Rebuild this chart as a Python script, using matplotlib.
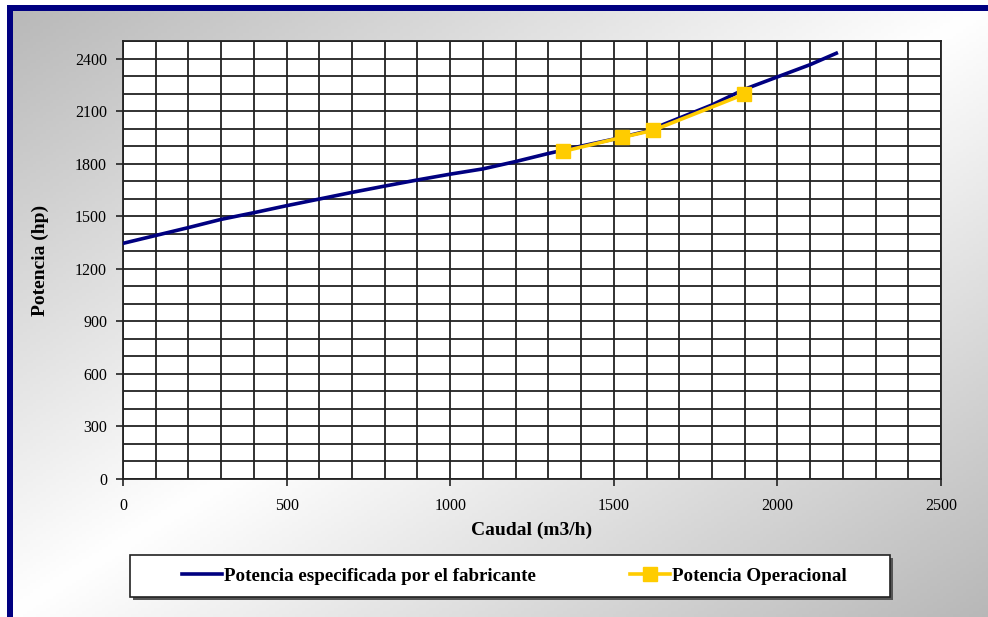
import numpy as np
import matplotlib.pyplot as plt
from matplotlib.lines import Line2D
from matplotlib.patches import Rectangle

# curva del fabricante (caudal m3/h, potencia hp)
caudal_fab = [0, 100, 200, 300, 400, 500, 600, 700, 800, 900, 1000, 1100,
              1200, 1300, 1400, 1500, 1600, 1700, 1800, 1900, 2000, 2100, 2180]
potencia_fab = [1345, 1390, 1435, 1482, 1520, 1560, 1598, 1636, 1672, 1707,
                1740, 1770, 1812, 1858, 1900, 1940, 1985, 2060, 2135, 2225,
                2295, 2365, 2430]

# puntos de operacion
caudal_op = [1345, 1525, 1620, 1897]
potencia_op = [1870, 1950, 1990, 2195]

x_ticks = [0, 500, 1000, 1500, 2000, 2500]
y_ticks = [0, 300, 600, 900, 1200, 1500, 1800, 2100, 2400]

serif = ['Liberation Serif', 'DejaVu Serif']

W, H = 988, 617
fig = plt.figure(figsize=(W / 100, H / 100), dpi=100)
fig.patch.set_facecolor('white')

# fondo degradado gris-blanco-gris en diagonal
bg = fig.add_axes([7 / W, 0, 1 - 7 / W, 1 - 5 / H], zorder=-10)
gx, gy = np.meshgrid(np.linspace(0, 1, 300), np.linspace(0, 1, 200))
t = np.abs((gx + gy) - 1.0)
val = 1.0 - 0.28 * t
bg.imshow(np.dstack([val, val, val]), aspect='auto', extent=[0, 1, 1, 0])
bg.set_axis_off()

# marco azul superior e izquierdo
navy = '#000080'
fig.patches.append(Rectangle((7 / W, 0), 6 / W, 1 - 5 / H, transform=fig.transFigure,
                             facecolor=navy, edgecolor='none', zorder=5))
fig.patches.append(Rectangle((7 / W, 1 - 11 / H), 1 - 7 / W, 6 / H, transform=fig.transFigure,
                             facecolor=navy, edgecolor='none', zorder=5))

ax = fig.add_axes([123 / W, 1 - 479 / H, (941 - 123) / W, (479 - 41) / H])
ax.set_facecolor('white')
ax.set_xlim(0, 2500)
ax.set_ylim(0, 2500)
ax.set_xticks(x_ticks)
ax.set_yticks(y_ticks)
ax.set_xticks(np.arange(0, 2501, 100), minor=True)
ax.set_yticks(np.arange(0, 2501, 100), minor=True)
ax.grid(True, which='both', color='#222222', linewidth=1.3)
ax.tick_params(which='minor', length=0)
ax.tick_params(which='major', direction='out', length=5, width=1.2, color='#222222',
               labelsize=11.5)
ax.tick_params(axis='y', pad=6.5)
ax.tick_params(axis='x', pad=9)
for lbl in ax.get_xticklabels() + ax.get_yticklabels():
    lbl.set_family(serif)
for sp in ax.spines.values():
    sp.set_color('#222222')
    sp.set_linewidth(1.3)
ax.set_axisbelow(True)

ax.plot(caudal_fab, potencia_fab, color=navy, linewidth=2.6, zorder=3)
ax.plot(caudal_op, potencia_op, color='#FFCC00', linewidth=2.6, marker='s',
        markersize=10, markeredgecolor='#FFCC00', zorder=4)

ax.set_xlabel('Caudal (m3/h)', family=serif, fontweight='bold',
              fontsize=14, labelpad=5)
ax.set_ylabel('Potencia (hp)', family=serif, fontweight='bold',
              fontsize=14, labelpad=19)

# caja de leyenda con sombra
lx0, lx1, ly0, ly1 = 130, 890, 555, 597
fig.patches.append(Rectangle(((lx0 + 3) / W, 1 - (ly1 + 3) / H), (lx1 - lx0) / W, (ly1 - ly0) / H,
                             transform=fig.transFigure, facecolor='#555555',
                             edgecolor='none', zorder=6))
fig.patches.append(Rectangle((lx0 / W, 1 - ly1 / H), (lx1 - lx0) / W, (ly1 - ly0) / H,
                             transform=fig.transFigure, facecolor='white',
                             edgecolor='#222222', linewidth=1.2, zorder=7))

handles = [Line2D([], [], color=navy, linewidth=2.6),
           Line2D([], [], color='#FFCC00', linewidth=2.6, marker='s', markersize=10)]
leg = fig.legend(handles, ['Potencia especificada por el fabricante', 'Potencia Operacional'],
                 ncol=2, frameon=False, loc='center',
                 bbox_to_anchor=((181 + 848) / 2 / W, 1 - 576 / H),
                 prop={'family': serif, 'weight': 'bold', 'size': 13.7},
                 handlelength=2.1, handletextpad=0.1, columnspacing=4.95)
leg.set_zorder(8)

fig.savefig('out.png', dpi=100)
